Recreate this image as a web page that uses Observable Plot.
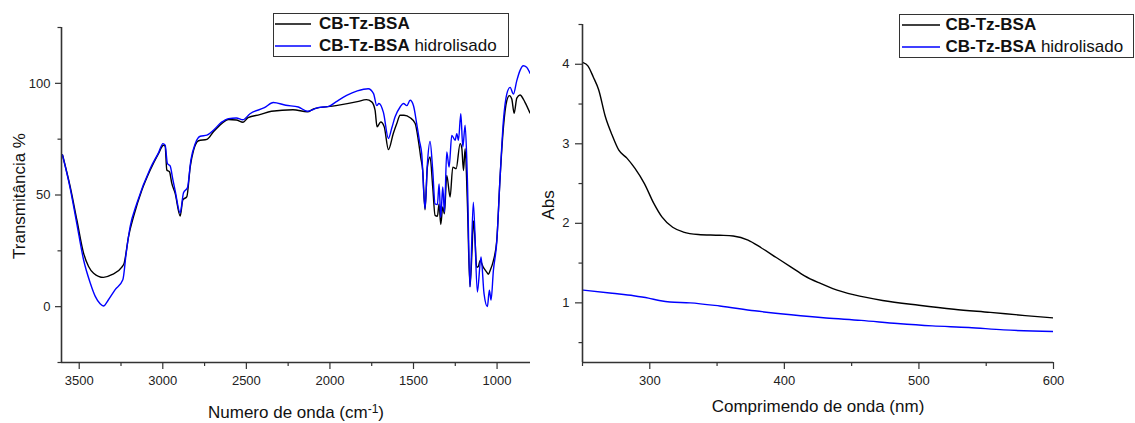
<!DOCTYPE html>
<html>
<head>
<meta charset="utf-8">
<script src="https://cdn.jsdelivr.net/npm/d3@7"></script>
<script src="https://cdn.jsdelivr.net/npm/@observablehq/plot@0.6"></script>
<style>
  body { margin: 0; background: #fff; }
  #wrap { position: relative; width: 1135px; height: 423px; overflow: hidden; background: #fff;
          font-family: "Liberation Sans", Arial, sans-serif; color: #111; }
  .pl { position: absolute; top: 0; }
  .t { position: absolute; font-size: 17px; line-height: 17px; white-space: nowrap; }
  .rot { transform: translate(-50%, -50%) rotate(-90deg); }
  .ctr { transform: translate(-50%, -50%); }
  .box { position: absolute; border: 1px solid #333; box-sizing: border-box; background: #fff; }
  .sw { position: absolute; overflow: visible; }
  sup { font-size: 12px; position: relative; top: -0.45em; vertical-align: baseline; }
</style>
</head>
<body>
<div id="wrap"></div>
<script>
// ---------- series ----------
const seriesNames = ["CB-Tz-BSA", "CB-Tz-BSA hidrolisado"];
const seriesColors = ["#000000", "#0000ff"];

// ---------- FTIR (left) ----------
const ftirBlackWn = [3600,3554,3514,3474,3444,3414,3355,3305,3245,3231,3205,3175,3125,3075,3025,2996,2986,2976,2960,2946,2926,2896,2880,2856,2836,2816,2786,2736,2697,2650,2607,2560,2520,2490,2420,2350,2221,2135,2093,1964,1836,1782,1750,1730,1718,1696,1675,1650,1621,1600,1580,1557,1520,1490,1471,1457,1445,1431,1417,1401,1385,1371,1357,1347,1337,1325,1315,1301,1281,1265,1245,1221,1211,1201,1191,1178,1162,1150,1142,1132,1122,1112,1102,1082,1062,1052,1042,1022,1002,982,962,942,926,912,898,882,863,833,803];
const ftirBlackT  = [67.9,53.7,38.8,24,18,15,13.1,14.3,17.7,19.5,31.4,40.3,52.2,61.2,68.6,72.3,71.9,61.2,60.4,55.2,50.7,40.6,47.8,49.3,62.6,70,74.3,74.9,78.3,81.8,83.8,83.6,82.6,84.6,86,87.5,88.2,87.2,88.7,90,91.8,92.7,91.7,88,80.5,82.7,80.5,70.3,77.5,82,85.7,85.7,84.6,82,74.5,67,61,43.4,62.5,67,53.6,40.9,40.5,46,36.8,44.6,41.6,58.8,49.1,62.5,61.8,73,71,61,70.7,47.3,9,25,38.4,30,17.6,18,20.6,17.6,15.5,14.5,16.1,20.6,29.5,57.9,80.3,92.2,94.5,93,86.6,93.4,94.8,91.5,86.7];
const ftirBlueWn  = [3600,3554,3514,3474,3434,3404,3375,3355,3325,3285,3239,3219,3195,3155,3075,3025,2999,2986,2972,2956,2940,2926,2896,2876,2852,2832,2806,2776,2736,2697,2650,2607,2560,2520,2478,2392,2339,2264,2189,2135,2071,2007,1964,1900,1836,1771,1739,1720,1707,1680,1650,1630,1610,1580,1560,1540,1520,1500,1481,1465,1451,1431,1417,1401,1385,1371,1357,1347,1337,1325,1315,1301,1287,1271,1251,1241,1231,1217,1205,1191,1178,1162,1142,1118,1096,1078,1058,1046,1036,1022,1002,982,962,942,922,902,882,863,843,823,803];
const ftirBlueT   = [67.9,53,37,21,10.6,4.6,1.3,0.3,3.1,7.6,12,24,35.9,46.3,61.9,69,73,72.3,64,63,57,52,42,51,53.4,65.6,73,76.3,76.8,79,82.5,84.2,84.5,83.7,86.4,89.1,91.4,90.2,89.4,87.5,89.1,89.7,91.7,94.6,96.6,97.6,95.4,90,91,87,75.3,80,85,89.4,91,90,92.4,90,82,74.5,68.5,43.9,64,74,61,46,45.7,55,40,53.6,42.4,69.3,62.5,76.7,74.5,77.5,74.5,86.4,71.5,81.2,58,8.8,46.8,6.6,22.3,5.8,0,7.4,3,16.2,28.8,57.9,83.3,95.2,98.2,95.2,101.2,105.7,107.9,107.2,104.5];
const ftirXDomain = [3606, 800];
const ftirYDomain = [-25, 125];
const ftirXMajor = [3500, 3000, 2500, 2000, 1500, 1000];
const ftirXMinor = [3250, 2750, 2250, 1750, 1250];
const ftirYMajor = [0, 50, 100];
const ftirYMinor = [-25, 25, 75, 125];

// ---------- UV-Vis (right) ----------
const uvBlackNm = [250.5,254,258,262,267,272,277,283,289,296,303,309,317,325,336,352,362,373,383,394,405,415,426,436,452,473,500,526,553,579,600];
const uvBlackA  = [4.02,3.98,3.84,3.68,3.34,3.11,2.92,2.82,2.69,2.5,2.25,2.08,1.95,1.89,1.86,1.85,1.84,1.79,1.69,1.57,1.45,1.34,1.25,1.18,1.10,1.03,0.97,0.92,0.88,0.84,0.81];
const uvBlueNm  = [250.5,272,288,299,307,315,330,352,378,405,431,457,484,510,537,563,600];
const uvBlueA   = [1.16,1.12,1.09,1.06,1.03,1.01,1.0,0.96,0.9,0.85,0.81,0.78,0.74,0.71,0.69,0.66,0.64];
const uvXDomain = [250, 600];
const uvYDomain = [0.25, 4.5];
const uvXMajor = [300, 400, 500, 600];
const uvXMinor = [250, 350, 450, 550];
const uvYMajor = [1, 2, 3, 4];
const uvYMinor = [0.5, 1.5, 2.5, 3.5, 4.5];

// ---------- build ----------
const zip = (xs, ys, s) => xs.map((x, i) => ({x, y: ys[i], s}));
const ftirData = [...zip(ftirBlackWn, ftirBlackT, seriesNames[0]), ...zip(ftirBlueWn, ftirBlueT, seriesNames[1])];
const uvData = [...zip(uvBlackNm, uvBlackA, seriesNames[0]), ...zip(uvBlueNm, uvBlueA, seriesNames[1])];

const axisColor = "#333";
const baseStyle = {fontFamily: "'Liberation Sans', Arial, sans-serif", fontSize: "13px", color: "#222", background: "transparent", overflow: "visible"};

function chart(o) {
  return Plot.plot({
    width: o.width, height: 423,
    marginLeft: o.ml, marginRight: o.mr, marginTop: o.mt, marginBottom: 61,
    style: baseStyle,
    x: {domain: o.xd, label: null},
    y: {domain: o.yd, label: null},
    color: {domain: seriesNames, range: seriesColors},
    marks: [
      Plot.line(o.data, {x: "x", y: "y", z: "s", stroke: "s", strokeWidth: 1.4, curve: "monotone-x", clip: true}),
      Plot.ruleX([o.xd[0]], {stroke: axisColor, strokeWidth: 1.6}),
      Plot.ruleY([o.yd[0]], {stroke: axisColor, strokeWidth: 1.6}),
      Plot.axisX({ticks: o.xMajor, tickSize: 7, tickPadding: 6, tickFormat: d => String(d), label: null, stroke: axisColor, strokeWidth: 1.2, fill: "#222"}),
      Plot.axisX({ticks: o.xMinor, tickSize: 4, text: null, label: null, stroke: axisColor, strokeWidth: 1.2}),
      Plot.axisY({ticks: o.yMajor, tickSize: o.yts, tickPadding: o.ytp, tickFormat: d => String(d), label: null, stroke: axisColor, strokeWidth: 1.2, fill: "#222"}),
      Plot.axisY({ticks: o.yMinor, tickSize: 3.5, text: null, label: null, stroke: axisColor, strokeWidth: 1.2})
    ]
  });
}

const wrap = document.getElementById("wrap");

const left = chart({width: 540, ml: 61, mr: 10, mt: 27, xd: ftirXDomain, yd: ftirYDomain, data: ftirData,
  xMajor: ftirXMajor, xMinor: ftirXMinor, yMajor: ftirYMajor, yMinor: ftirYMinor, yts: 6, ytp: 5});
left.classList.add("pl"); left.style.left = "0px";
wrap.appendChild(left);

const right = chart({width: 595, ml: 42, mr: 82, mt: 24, xd: uvXDomain, yd: uvYDomain, data: uvData,
  xMajor: uvXMajor, xMinor: uvXMinor, yMajor: uvYMajor, yMinor: uvYMinor, yts: 7, ytp: 6});
right.classList.add("pl"); right.style.left = "540px";
wrap.appendChild(right);

// ---------- text overlays ----------
function addText(html, cls, x, y) {
  const d = document.createElement("div");
  d.className = "t " + cls;
  d.style.left = x + "px"; d.style.top = y + "px";
  d.innerHTML = html;
  wrap.appendChild(d);
}
addText("Transmitância %", "rot", 19, 196);
addText("Numero de onda (cm<sup>-1</sup>)", "ctr", 296, 413);
addText("Abs", "rot", 547.5, 205);
addText("Comprimendo de onda (nm)", "ctr", 818, 406);

const SVGNS = "http://www.w3.org/2000/svg";
function addLegend(bx, by, bw, bh, swx, sww, tx, baselines) {
  const b = document.createElement("div");
  b.className = "box";
  Object.assign(b.style, {left: bx + "px", top: by + "px", width: bw + "px", height: bh + "px"});
  wrap.appendChild(b);
  seriesNames.forEach((name, i) => {
    const svg = document.createElementNS(SVGNS, "svg");
    svg.setAttribute("class", "sw");
    svg.setAttribute("width", sww);
    svg.setAttribute("height", 4);
    svg.style.left = swx + "px";
    svg.style.top = (baselines[i] - 7.5) + "px";
    const ln = document.createElementNS(SVGNS, "line");
    ln.setAttribute("x1", 0); ln.setAttribute("x2", sww);
    ln.setAttribute("y1", 2); ln.setAttribute("y2", 2);
    ln.setAttribute("stroke", seriesColors[i]);
    ln.setAttribute("stroke-width", 1.4);
    svg.appendChild(ln);
    wrap.appendChild(svg);
    const bold = "CB-Tz-BSA";
    const rest = name.slice(bold.length);
    const t = document.createElement("div");
    t.className = "t";
    Object.assign(t.style, {left: tx + "px", top: (baselines[i] - 14.4) + "px"});
    t.innerHTML = "<b>" + bold + "</b>" + rest;
    wrap.appendChild(t);
  });
}
addLegend(272.5, 13, 236, 44, 275, 36, 319, [29.5, 51.7]);
addLegend(899, 14, 235, 44, 902, 38, 945.5, [30.5, 52.5]);
</script>
</body>
</html>
